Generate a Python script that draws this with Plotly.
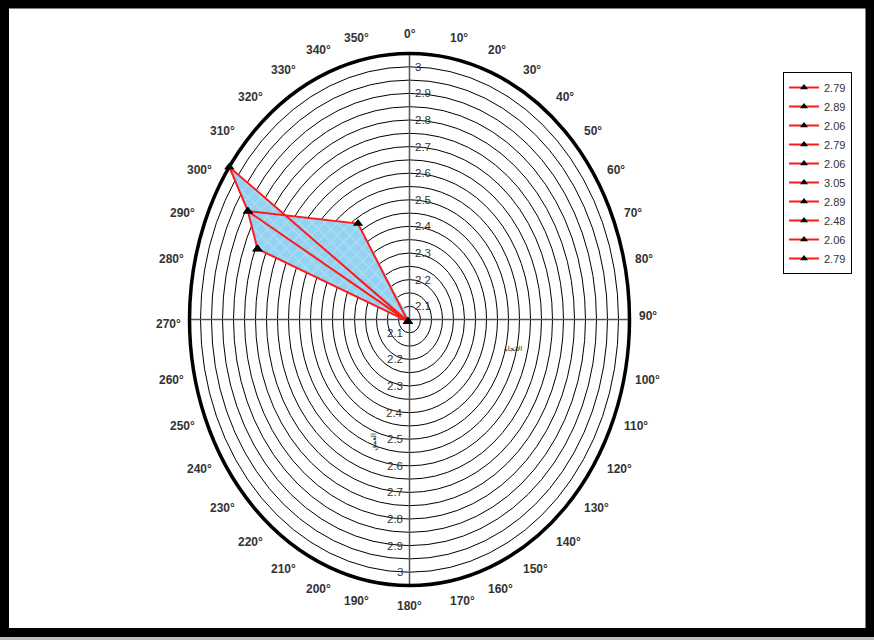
import numpy as np
import plotly.graph_objects as go

# ---- data ----
VALUES = [2.79, 2.89, 2.06, 2.79, 2.06, 3.05, 2.89, 2.48, 2.06, 2.79]
DIRECTIONS = [291, 299, 225, 291, 225, 305, 299, 327, 225, 291]   # degrees, clockwise from north
R_MIN, R_MAX = 2.05, 3.05
RING_VALUES = [2.10, 2.15, 2.20, 2.25, 2.30, 2.35, 2.40, 2.45, 2.50, 2.55,
               2.60, 2.65, 2.70, 2.75, 2.80, 2.85, 2.90, 2.95, 3.00]
RADIAL_TICKS = [2.1, 2.2, 2.3, 2.4, 2.5, 2.6, 2.7, 2.8, 2.9, 3]
ANGLE_TICKS = list(range(0, 360, 10))

W, H = 874, 640
CX, CY = 409.5, 319.5       # centre of the dial in pixels
RX, RY = 220.0, 266.0       # pixels per unit of radius (horizontal / vertical)
FONT = "Arial, Liberation Sans, sans-serif"


def to_xy(r, deg):
    k = np.asarray(r, dtype=float) - R_MIN
    t = np.radians(np.asarray(deg, dtype=float))
    return k * np.sin(t), k * np.cos(t)


fig = go.Figure()

px_, py_ = to_xy(VALUES, DIRECTIONS)
n = len(VALUES)

# filled area: like a filled radar, each segment is filled as a wedge from the pole
for i in range(n):
    j = (i + 1) % n
    fig.add_trace(go.Scatter(
        x=[0, px_[i], px_[j]], y=[0, py_[i], py_[j]], mode="none", fill="toself",
        fillcolor="#93d2f1",
        fillpattern=dict(shape="x", bgcolor="#93d2f1", fgcolor="#cdebfa", size=9, solidity=0.25),
        showlegend=False, hoverinfo="skip",
    ))

# outline and markers
fig.add_trace(go.Scatter(
    x=np.append(px_, px_[0]), y=np.append(py_, py_[0]), mode="lines",
    line=dict(color="#ff1a1a", width=2),
    showlegend=False, hoverinfo="skip",
))
fig.add_trace(go.Scatter(
    x=px_, y=py_, mode="markers",
    marker=dict(symbol="triangle-up", color="black", size=9),
    showlegend=False, hoverinfo="skip",
))

# legend entries (one per value, as in the original)
for v in VALUES:
    fig.add_trace(go.Scatter(
        x=[None], y=[None], mode="lines+markers", name=f"{v:.2f}",
        line=dict(color="#ff1a1a", width=2),
        marker=dict(symbol="triangle-up", color="black", size=7),
    ))

shapes = []
for rv in RING_VALUES:
    k = rv - R_MIN
    shapes.append(dict(type="circle", xref="x", yref="y", x0=-k, x1=k, y0=-k, y1=k,
                       line=dict(color="black", width=1), layer="below"))
K = R_MAX - R_MIN
shapes.append(dict(type="line", xref="x", yref="y", x0=-K, x1=K, y0=0, y1=0,
                   line=dict(color="#555555", width=1.5), layer="below"))
shapes.append(dict(type="line", xref="x", yref="y", x0=0, x1=0, y0=-K, y1=K,
                   line=dict(color="#555555", width=1.5), layer="below"))
shapes.append(dict(type="circle", xref="x", yref="y", x0=-K, x1=K, y0=-K, y1=K,
                   line=dict(color="black", width=3.5), layer="above"))
# frame
shapes.append(dict(type="rect", xref="paper", yref="paper",
                   x0=4.5 / W, x1=(W - 4) / W, y0=1 - 632.5 / H, y1=1 - 4 / H,
                   line=dict(color="black", width=9), layer="above"))
shapes.append(dict(type="rect", xref="paper", yref="paper",
                   x0=0, x1=1, y0=0, y1=3 / H, fillcolor="#bdbdbd",
                   line=dict(width=0), layer="above"))

annotations = []
for a in ANGLE_TICKS:
    t = np.radians(a)
    s, c = np.sin(t), np.cos(t)
    xa = "center" if a in (0, 180) else ("left" if a < 180 else "right")
    ya = "middle" if a in (90, 270) else ("bottom" if (a < 90 or a > 270) else "top")
    xs = 7 * s * abs(s)
    ys = (4 + 7 * abs(c)) * np.sign(c)
    annotations.append(dict(
        x=K * s, y=K * c, xref="x", yref="y", text=f"{a}°", showarrow=False,
        xanchor=xa, yanchor=ya, xshift=xs, yshift=ys,
        font=dict(family=FONT, size=12, color="#333333", weight="bold"),
    ))
for rv in RADIAL_TICKS:
    k = rv - R_MIN
    lab = f"{rv:g}"
    annotations.append(dict(x=0, y=k, xref="x", yref="y", text=lab, showarrow=False,
                            xanchor="left", yanchor="middle", xshift=3,
                            font=dict(family=FONT, size=11.5, color="#333333")))
    annotations.append(dict(x=0, y=-k, xref="x", yref="y", text=lab, showarrow=False,
                            xanchor="right", yanchor="middle", xshift=-5,
                            font=dict(family=FONT, size=11.5, color="#333333")))
annotations.append(dict(x=513 / W, y=1 - 349 / H, xref="paper", yref="paper", text="الاتجاه",
                        showarrow=False, font=dict(family="DejaVu Sans", size=7, color="#222222")))
annotations.append(dict(x=373 / W, y=1 - 453 / H, xref="paper", yref="paper", text="العمق",
                        showarrow=False, textangle=-90,
                        font=dict(family="DejaVu Sans", size=7, color="#222222")))

fig.update_layout(
    width=W, height=H, margin=dict(l=0, r=0, t=0, b=0),
    paper_bgcolor="white", plot_bgcolor="white",
    xaxis=dict(range=[-CX / RX, (W - CX) / RX], visible=False, fixedrange=True),
    yaxis=dict(range=[-(H - CY) / RY, CY / RY], visible=False, fixedrange=True),
    shapes=shapes, annotations=annotations,
    showlegend=True,
    legend=dict(x=852 / W, y=1 - 72 / H, xanchor="right", yanchor="top",
                bgcolor="white", bordercolor="black", borderwidth=1,
                font=dict(family=FONT, size=11, color="#333333"),
                itemwidth=30, tracegroupgap=0),
)

fig.write_html("out.html", config={"displayModeBar": False},
               post_script="document.body.style.margin='0';document.body.style.overflow='hidden';")
